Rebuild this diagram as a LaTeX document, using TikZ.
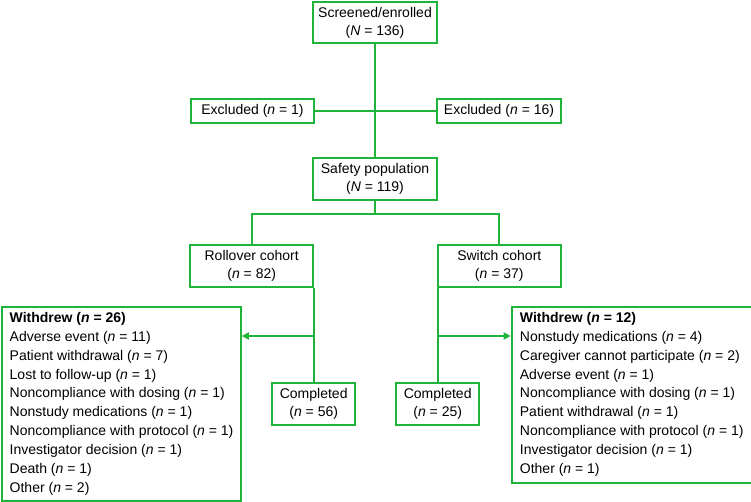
\documentclass[tikz,border=0pt]{standalone}
\usepackage{fontspec}
\setmainfont{Liberation Sans}
\usetikzlibrary{arrows.meta}
\definecolor{lgreen}{RGB}{30,180,60}
\begin{document}
\begin{tikzpicture}[x=1pt,y=-1pt,
  box/.style={draw=lgreen, line width=1.8pt, inner sep=0pt, align=center,
    font=\fontsize{14}{18}\selectfont},
  frame/.style={draw=lgreen, line width=1.8pt, anchor=north west, inner sep=0pt},
  listtext/.style={anchor=north west, inner sep=0pt, align=left,
    font=\fontsize{14}{18.9}\selectfont},
  conn/.style={lgreen, line width=1.8pt},
  arr/.style={conn, -{Triangle[length=7pt,width=7pt]}}]
\useasboundingbox (0,0) rectangle (751,502);
\node[box, minimum width=124pt, minimum height=41pt] (scr) at (375,22.5) {Screened/enrolled\\(\emph{N} = 136)};
\node[box, minimum width=123pt, minimum height=24pt] (exl) at (252.5,111) {Excluded (\emph{n} = 1)};
\node[box, minimum width=124pt, minimum height=24pt] (exr) at (499,111) {Excluded (\emph{n} = 16)};
\node[box, minimum width=124pt, minimum height=42pt] (saf) at (375,179) {Safety population\\(\emph{N} = 119)};
\node[box, minimum width=123pt, minimum height=42pt] (rol) at (251.7,266) {Rollover cohort\\(\emph{n} = 82)};
\node[box, minimum width=123pt, minimum height=42pt] (swi) at (499.3,266) {Switch cohort\\(\emph{n} = 37)};
\node[box, minimum width=83pt, minimum height=42pt] (cpl) at (313.7,404) {Completed\\(\emph{n} = 56)};
\node[box, minimum width=83pt, minimum height=42pt] (cpr) at (437.7,404) {Completed\\(\emph{n} = 25)};
\node[frame, minimum width=239pt, minimum height=194pt] (wl) at (1,306) {};
\node[frame, minimum width=240pt, minimum height=176pt] (wr) at (510.7,306) {};
\node[listtext] (wlt) at ([shift={(8.5,6)}]wl.north west) {%
\textbf{Withdrew (\emph{n} = 26)}\\
Adverse event (\emph{n} = 11)\\
Patient withdrawal (\emph{n} = 7)\\
Lost to follow-up (\emph{n} = 1)\\
Noncompliance with dosing (\emph{n} = 1)\\
Nonstudy medications (\emph{n} = 1)\\
Noncompliance with protocol (\emph{n} = 1)\\
Investigator decision (\emph{n} = 1)\\
Death (\emph{n} = 1)\\
Other (\emph{n} = 2)};
\node[listtext] (wrt) at ([shift={(9,6)}]wr.north west) {%
\textbf{Withdrew (\emph{n} = 12)}\\
Nonstudy medications (\emph{n} = 4)\\
Caregiver cannot participate (\emph{n} = 2)\\
Adverse event (\emph{n} = 1)\\
Noncompliance with dosing (\emph{n} = 1)\\
Patient withdrawal (\emph{n} = 1)\\
Noncompliance with protocol (\emph{n} = 1)\\
Investigator decision (\emph{n} = 1)\\
Other (\emph{n} = 1)};
\coordinate (br) at (375,214);
\coordinate (al) at (313.7,336);
\coordinate (ar) at (437.7,336);
\draw[conn] (scr.south) -- (saf.north);
\draw[conn] (exl.east) -- (exr.west);
\draw[conn] (saf.south) -- (br);
\draw[conn] (rol.north) |- (br) -| (swi.north);
\draw[conn] (cpl.north |- rol.south) -- (cpl.north);
\draw[conn] (cpr.north |- swi.south) -- (cpr.north);
\draw[arr] (al) -- (al -| wl.east);
\draw[arr] (ar) -- (ar -| wr.west);
\end{tikzpicture}
\end{document}
